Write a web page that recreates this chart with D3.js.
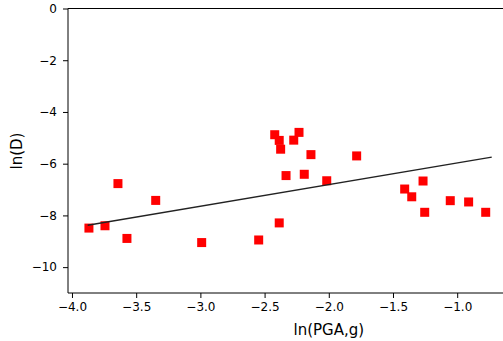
<!DOCTYPE html>
<html><head><meta charset="utf-8">
<script src="https://cdn.jsdelivr.net/npm/d3@7"></script>
<style>body{margin:0;background:#fff}svg{display:block}text{font-family:"DejaVu Sans",sans-serif;fill:#000}</style>
</head><body><svg id="c" width="503" height="341"></svg>
<script>
const pgaX = [-3.868,-3.743,-3.642,-3.572,-3.348,-2.990,-2.546,-2.421,-2.386,-2.375,-2.333,-2.386,-2.273,-2.232,-2.191,-2.139,-2.016,-1.783,-1.409,-1.354,-1.266,-1.253,-1.054,-0.911,-0.778];
const dispY = [-8.49,-8.40,-6.77,-8.89,-7.42,-9.05,-8.95,-4.88,-5.10,-5.44,-6.46,-8.29,-5.09,-4.79,-6.41,-5.65,-6.66,-5.70,-6.98,-7.28,-6.67,-7.88,-7.43,-7.48,-7.88];
const fitX = [-3.878,-0.731];
const fitY = [-8.38,-5.75];
const xTicks = [-4.0,-3.5,-3.0,-2.5,-2.0,-1.5,-1.0];
const yTicks = [0,-2,-4,-6,-8,-10];

const svg = d3.select("#c");
const x = d3.scaleLinear().domain([-4.031,-0.574]).range([68,511.9]);
const y = d3.scaleLinear().domain([-11,0]).range([293,8.5]);
const fmtX = d => d3.format(".1f")(d).replace("-","\u2212");
const fmtY = d => d3.format("d")(d).replace("-","\u2212");

// axes
const xa = svg.append("g").attr("transform","translate(0,293)")
  .call(d3.axisBottom(x).tickValues(xTicks).tickFormat(fmtX).tickSizeOuter(0).tickSize(5).tickPadding(4));
const ya = svg.append("g").attr("transform","translate(68,0)")
  .call(d3.axisLeft(y).tickValues(yTicks).tickFormat(fmtY).tickSizeOuter(0).tickSize(5).tickPadding(6));
[xa,ya].forEach(g=>{
  g.select(".domain").remove();
  g.selectAll("text").attr("font-size",12).attr("font-family","DejaVu Sans").attr("fill","#000");
  g.selectAll("line").attr("stroke","#000").attr("stroke-width",1);
});
// spines
svg.append("line").attr("x1",68).attr("x2",503).attr("y1",293).attr("y2",293).attr("stroke","#000").attr("stroke-width",1);
svg.append("line").attr("x1",68).attr("x2",503).attr("y1",y(0)).attr("y2",y(0)).attr("stroke","#000").attr("stroke-width",1);
svg.append("line").attr("x1",68).attr("x2",68).attr("y1",y(0)).attr("y2",293).attr("stroke","#000").attr("stroke-width",1);

// points
const s = 9;
svg.append("g").selectAll("rect").data(pgaX.map((v,i)=>[v,dispY[i]])).join("rect")
  .attr("x",d=>x(d[0])-s/2).attr("y",d=>y(d[1])-s/2).attr("width",s).attr("height",s).attr("fill","#ff0000");

// fit line
svg.append("path").datum(fitX.map((v,i)=>[v,fitY[i]]))
  .attr("d",d3.line().x(d=>x(d[0])).y(d=>y(d[1])))
  .attr("stroke","#222").attr("stroke-width",1.3).attr("fill","none");

// labels
svg.append("text").attr("x",x(-2.0)).attr("y",335).attr("text-anchor","middle").attr("font-size",15).text("ln(PGA,g)");
svg.append("text").attr("transform","translate(22,151) rotate(-90)").attr("text-anchor","middle").attr("font-size",15).text("ln(D)");
</script></body></html>
